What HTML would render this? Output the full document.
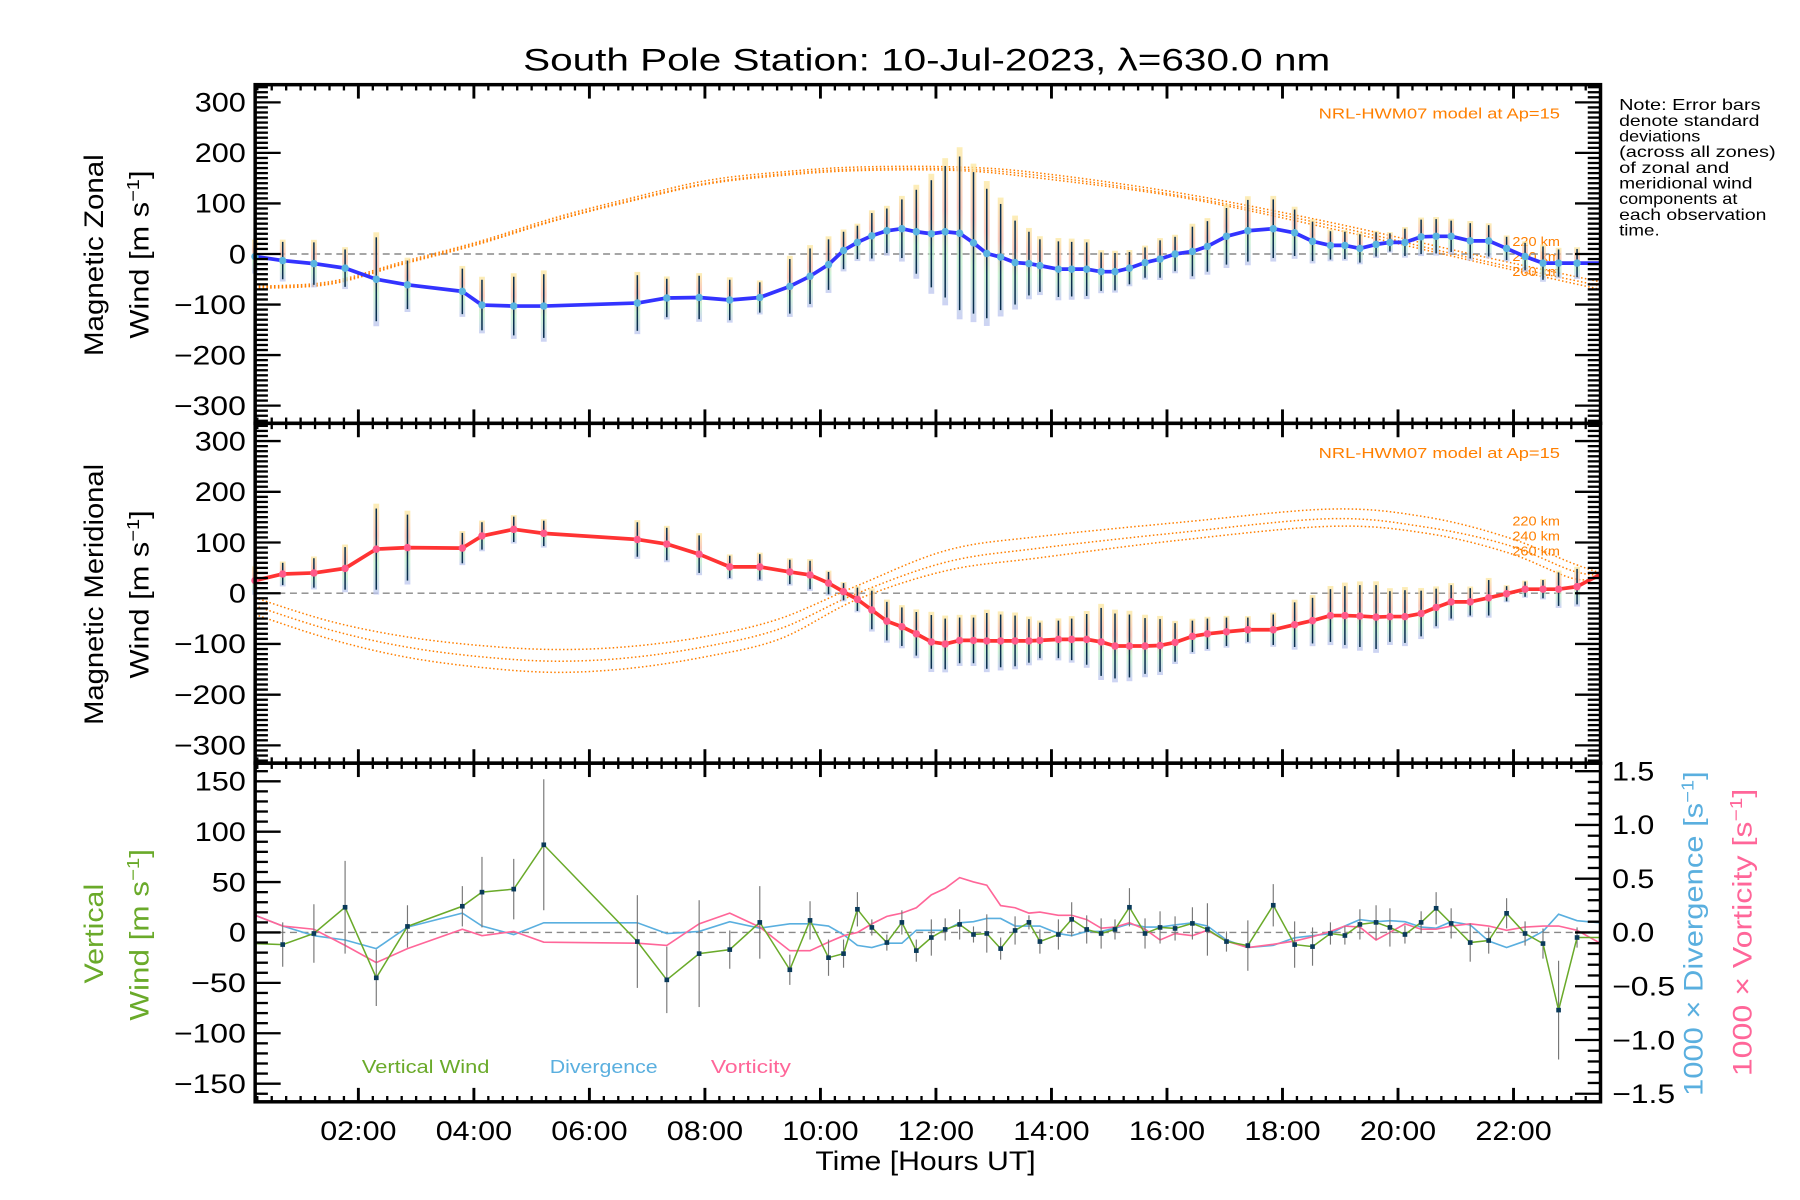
<!DOCTYPE html>
<html><head><meta charset="utf-8"><title>South Pole Station winds</title>
<style>
html,body{margin:0;padding:0;background:#fff;}
svg{display:block;font-family:"Liberation Sans",sans-serif;}
</style></head>
<body>
<svg id="chart" xmlns="http://www.w3.org/2000/svg" width="1800" height="1200" viewBox="0 0 1552 1034.67">
<defs>
<linearGradient id="spread" x1="0" y1="0" x2="0" y2="1">
<stop offset="0" stop-color="#fce9a0"/><stop offset="0.35" stop-color="#f7b9a6"/><stop offset="0.65" stop-color="#bfefc8"/><stop offset="1" stop-color="#bcc4f0"/>
</linearGradient>
</defs>
<text x="451" y="61" font-size="27" textLength="696" lengthAdjust="spacingAndGlyphs" fill="#000">South Pole Station: 10-Jul-2023, λ=630.0 nm</text>
<g font-size="13.5" fill="#000" lengthAdjust="spacingAndGlyphs">
<text x="1396" y="95" textLength="122" lengthAdjust="spacingAndGlyphs">Note: Error bars</text>
<text x="1396" y="108.5" textLength="121" lengthAdjust="spacingAndGlyphs">denote standard</text>
<text x="1396" y="122" textLength="70" lengthAdjust="spacingAndGlyphs">deviations</text>
<text x="1396" y="135.5" textLength="135" lengthAdjust="spacingAndGlyphs">(across all zones)</text>
<text x="1396" y="149" textLength="95" lengthAdjust="spacingAndGlyphs">of zonal and</text>
<text x="1396" y="162.5" textLength="115" lengthAdjust="spacingAndGlyphs">meridional wind</text>
<text x="1396" y="176" textLength="102" lengthAdjust="spacingAndGlyphs">components at</text>
<text x="1396" y="189.5" textLength="127" lengthAdjust="spacingAndGlyphs">each observation</text>
<text x="1396" y="203" textLength="35" lengthAdjust="spacingAndGlyphs">time.</text>
</g>
<text font-size="23" textLength="174" lengthAdjust="spacingAndGlyphs" transform="translate(89,307) rotate(-90)">Magnetic Zonal</text>
<text font-size="23" textLength="145" lengthAdjust="spacingAndGlyphs" transform="translate(128,292) rotate(-90)">Wind [m s<tspan dy="-8" font-size="15">−1</tspan><tspan dy="8">]</tspan></text>
<text font-size="23" textLength="225" lengthAdjust="spacingAndGlyphs" transform="translate(89,625) rotate(-90)">Magnetic Meridional</text>
<text font-size="23" textLength="145" lengthAdjust="spacingAndGlyphs" transform="translate(128,585) rotate(-90)">Wind [m s<tspan dy="-8" font-size="15">−1</tspan><tspan dy="8">]</tspan></text>
<text font-size="23" fill="#6aaa2a" textLength="86" lengthAdjust="spacingAndGlyphs" transform="translate(89,848) rotate(-90)">Vertical</text>
<text font-size="23" fill="#6aaa2a" textLength="148" lengthAdjust="spacingAndGlyphs" transform="translate(128,880) rotate(-90)">Wind [m s<tspan dy="-8" font-size="15">−1</tspan><tspan dy="8">]</tspan></text>
<text font-size="23" fill="#5aafdf" textLength="280" lengthAdjust="spacingAndGlyphs" transform="translate(1468,945) rotate(-90)">1000 × Divergence [s<tspan dy="-8" font-size="15">−1</tspan><tspan dy="8">]</tspan></text>
<text font-size="23" fill="#ff6699" textLength="248" lengthAdjust="spacingAndGlyphs" transform="translate(1510,928) rotate(-90)">1000 × Vorticity [s<tspan dy="-8" font-size="15">−1</tspan><tspan dy="8">]</tspan></text>
<text x="703" y="1009" font-size="23" textLength="190" lengthAdjust="spacingAndGlyphs">Time [Hours UT]</text>
<text x="312" y="925" font-size="16" fill="#6aaa2a" textLength="110" lengthAdjust="spacingAndGlyphs">Vertical Wind</text>
<text x="474" y="925" font-size="16" fill="#5aafdf" textLength="93" lengthAdjust="spacingAndGlyphs">Divergence</text>
<text x="613" y="925" font-size="16" fill="#ff6699" textLength="69" lengthAdjust="spacingAndGlyphs">Vorticity</text>
<text x="1137" y="102" font-size="13" fill="#ff7f00" textLength="208" lengthAdjust="spacingAndGlyphs">NRL-HWM07 model at Ap=15</text>
<text x="1137" y="395" font-size="13" fill="#ff7f00" textLength="208" lengthAdjust="spacingAndGlyphs">NRL-HWM07 model at Ap=15</text>
<g font-size="11" fill="#ff7f00">
<text x="1304" y="212" textLength="41" lengthAdjust="spacingAndGlyphs">220 km</text><text x="1304" y="225" textLength="41" lengthAdjust="spacingAndGlyphs">240 km</text><text x="1304" y="238" textLength="41" lengthAdjust="spacingAndGlyphs">260 km</text></g>
<g font-size="11" fill="#ff7f00">
<text x="1304" y="453" textLength="41" lengthAdjust="spacingAndGlyphs">220 km</text><text x="1304" y="466" textLength="41" lengthAdjust="spacingAndGlyphs">240 km</text><text x="1304" y="479" textLength="41" lengthAdjust="spacingAndGlyphs">260 km</text></g>
</svg>
<script>
// ---- data ----
const times = [0.21,0.69,1.23,1.77,2.31,2.85,3.80,4.14,4.69,5.21,6.83,7.34,7.90,8.43,8.95,9.47,9.82,10.14,10.40,10.64,10.89,11.15,11.41,11.66,11.92,12.16,12.41,12.65,12.88,13.12,13.37,13.61,
13.80,14.12,14.35,14.61,14.86,15.10,15.35,15.62,15.88,16.14,16.44,16.70,17.03,17.40,17.84,18.21,18.52,18.83,19.08,19.34,19.62,19.86,20.12,20.40,20.66,20.92,21.25,21.57,21.88,22.20,22.51,22.78,23.10];
const endTime = 23.5;
const zonal = [-5,-13,-19,-28,-50,-61,-74,-101,-103,-103,-97,-87,-86,-91,-86,-64,-44,-21,7,23,36,46,50,44,40,44,41,22,1,-6,-17,-19,
-23,-30,-30,-30,-35,-35,-28,-17,-10,0,5,15,35,46,50,42,25,17,17,11,19,23,23,34,35,35,26,26,11,-5,-18,-18,-18];
const zonalEnd = -18;
const zonalErr = [30,37,42,37,83,48,45,50,58,63,55,38,43,40,30,54,55,50,37,33,45,44,58,83,106,130,152,140,128,105,83,63,
52,55,54,53,38,37,32,30,37,34,49,50,56,61,58,46,39,28,27,28,24,18,27,34,34,31,35,31,23,27,33,27,28];
const merid = [25,38,40,49,87,90,89,113,126,118,106,97,77,52,52,42,36,20,3,-12,-33,-55,-66,-80,-96,-100,-93,-93,-94,-94,-94,-94,
-93,-91,-91,-91,-96,-104,-104,-104,-103,-97,-85,-80,-76,-72,-72,-62,-54,-44,-44,-45,-47,-46,-46,-40,-28,-17,-17,-9,-1,8,8,8,13];
const meridEnd = 37;
const meridErr = [25,22,29,42,80,65,30,27,25,25,34,32,37,22,25,24,28,22,17,23,38,38,38,43,53,50,45,45,55,52,50,43,
35,37,41,50,67,64,62,55,52,38,31,30,28,24,30,44,45,52,58,61,63,50,52,45,37,33,27,35,15,15,18,33,35];
const vert = [-11,-12,-1,25,-45,6,26,40,43,87,-9,-47,-21,-17,10,-37,12,-25,-21,23,5,-10,10,-18,-5,3,8,-2,-1,-16,2,10,
-9,-2,13,3,-1,3,25,-1,5,4,9,3,-9,-13,27,-12,-14,-1,-3,8,10,5,-2,10,24,9,-10,-8,19,-1,-11,-77,-5];
const vertEnd = -5;
const vertErr = [0,22,29,46,28,21,20,35,30,65,46,33,53,19,36,15,19,18,14,17,8,8,12,11,18,11,15,8,19,11,14,7,
12,15,17,14,15,10,19,15,16,12,16,26,10,25,21,23,19,11,9,15,17,19,9,11,16,15,19,13,15,12,15,49,10];
const diverg = [0.16,0.06,-0.03,-0.07,-0.15,0.05,0.18,0.06,-0.02,0.09,0.09,-0.01,0.01,0.10,0.04,0.08,0.08,0.06,-0.02,-0.12,-0.14,-0.10,-0.10,0.02,0.02,0.02,0.09,0.10,0.13,0.13,0.06,0.06,
0.06,-0.01,-0.03,0.01,0.01,0.04,0.08,0.05,0.05,0.07,0.09,0.06,-0.07,-0.14,-0.12,-0.05,-0.03,-0.01,0.06,0.12,0.10,0.11,0.10,0.05,0.04,0.10,0.07,-0.08,-0.14,-0.08,0.01,0.17,0.11];
const divergEnd = 0.09;
const vort = [0.16,0.06,0.03,-0.12,-0.28,-0.15,0.03,-0.03,0.01,-0.09,-0.10,-0.12,0.08,0.18,0.05,-0.17,-0.17,-0.09,-0.03,0,0.08,0.15,0.18,0.23,0.35,0.41,0.51,0.47,0.44,0.25,0.23,0.18,
0.19,0.16,0.16,0.12,0.04,0.05,0.09,0.03,-0.07,-0.01,-0.03,0.02,-0.08,-0.14,-0.11,-0.08,-0.04,0.01,0.06,0.05,-0.07,0,0.08,0.03,0.03,0.06,0.08,0.06,0.02,0.05,0.06,0.06,0.02];
const vortEnd = -0.10;
const modelTimes = [0.21,1.5,2.78,4.1,5.41,6.7,8.02,9.3,10.64,12.4,13.8,16.25,18.85,21.46,23.5];
const zonalModel220 = [-64,-55,-15,25,72,110,145,162,172,172,160,120,62,-5,-55];
const zonalModel240 = [-66,-58,-18,22,68,106,140,158,168,168,155,115,56,-13,-63];
const zonalModel260 = [-68,-60,-20,20,66,104,138,155,165,165,150,112,50,-18,-70];
const meridModelTimes = [0.21,1.5,2.78,4.1,5.41,6.7,8.02,9.3,10.64,12.2,13.8,16.25,18.85,20.5,21.9,23.0,23.5];
const meridModel220 = [-9,-55,-85,-103,-111,-105,-85,-50,15,85,112,140,166,150,110,60,40];
const meridModel240 = [-25,-72,-105,-125,-134,-127,-105,-70,0,62,89,120,147,130,95,45,35];
const meridModel260 = [-42,-90,-125,-146,-156,-148,-125,-90,-12,45,70,105,132,118,80,30,30];
const xTickLabels = ["02:00","04:00","06:00","08:00","10:00","12:00","14:00","16:00","18:00","20:00","22:00"];
const xTickHours = [2,4,6,8,10,12,14,16,18,20,22];
const windTicks = [300,200,100,0,-100,-200,-300];
const vertTicks = [150,100,50,0,-50,-100,-150];
const rightTicks = [1.5,1.0,0.5,0.0,-0.5,-1.0,-1.5];

// ---- scales ----
const NS = "http://www.w3.org/2000/svg";
const svg = document.getElementById("chart");
const X0 = 0.213, X1 = 23.506, L = 220, R = 1380;
function xS(h){ return L + (h - X0) / (X1 - X0) * (R - L); }
const panels = [
  {top:73, bot:365, min:-335, max:335},
  {top:365, bot:658, min:-335, max:335},
  {top:658, bot:950, min:-168, max:168}
];
const rightAx = {top:658, bot:950, min:-1.575, max:1.575};
function yS(p, v){ return p.bot - (v - p.min) / (p.max - p.min) * (p.bot - p.top); }
function mk(tag, attrs, parent){
  const e = document.createElementNS(NS, tag);
  for (const k in attrs) e.setAttribute(k, attrs[k]);
  (parent || svg).appendChild(e);
  return e;
}
function fmt(v, d){ const s = Math.abs(v).toFixed(d); return (v < 0 ? "−" : "") + s; }
function smooth(pts){
  let d = "M" + pts[0][0] + "," + pts[0][1];
  for (let i = 0; i < pts.length - 1; i++){
    const p0 = pts[Math.max(0,i-1)], p1 = pts[i], p2 = pts[i+1], p3 = pts[Math.min(pts.length-1,i+2)];
    const c1x = p1[0] + (p2[0]-p0[0])/6, c1y = p1[1] + (p2[1]-p0[1])/6;
    const c2x = p2[0] - (p3[0]-p1[0])/6, c2y = p2[1] - (p3[1]-p1[1])/6;
    d += " C" + c1x + "," + c1y + " " + c2x + "," + c2y + " " + p2[0] + "," + p2[1];
  }
  return d;
}

// ---- zero lines ----
panels.forEach((p, i) => {
  const z = mk("line", {x1:L, x2:R, y1:yS(p,0), y2:yS(p,0), stroke:"#888", "stroke-width":1.2, "stroke-dasharray":"6,4"});
  
  
});

// ---- model curves ----
function drawModel(p, mt, vals, name){
  const pts = mt.map((t, i) => [xS(t), yS(p, vals[i])]);
  const path = mk("path", {d:smooth(pts), fill:"none", stroke:"#ff7f00", "stroke-width":1.3, "stroke-dasharray":"1.3,2"});
  
  
}
drawModel(panels[0], modelTimes, zonalModel220, 'zonal-model-220km');
drawModel(panels[0], modelTimes, zonalModel240, 'zonal-model-240km');
drawModel(panels[0], modelTimes, zonalModel260, 'zonal-model-260km');
drawModel(panels[1], meridModelTimes, meridModel220, 'meridional-model-220km');
drawModel(panels[1], meridModelTimes, meridModel240, 'meridional-model-240km');
drawModel(panels[1], meridModelTimes, meridModel260, 'meridional-model-260km');

// ---- wind panels ----
function drawWind(p, vals, errs, endV, lineColor, dotColor, prefix){
  const g = mk("g", {});
  
  
  times.forEach((t, i) => {
    const x = xS(t), e = errs[i] * 1.12;
    const r = mk("rect", {x:x-2.5, y:yS(p, vals[i]+e), width:5, height:yS(p, vals[i]-e)-yS(p, vals[i]+e), fill:"url(#spread)", opacity:0.75}, g);
    
    
  });
  times.forEach((t, i) => {
    const x = xS(t);
    const b = mk("line", {x1:x, x2:x, y1:yS(p, vals[i]+errs[i]), y2:yS(p, vals[i]-errs[i]), stroke:"#0a2f4f", "stroke-width":1.3}, g);
    
    
  });
  const pts = times.map((t, i) => xS(t) + "," + yS(p, vals[i]));
  pts.push(xS(endTime) + "," + yS(p, endV));
  const ln = mk("polyline", {points:pts.join(" "), fill:"none", stroke:lineColor, "stroke-width":3.2, "stroke-linejoin":"round"}, g);
  
  
  times.forEach((t, i) => {
    const c = mk("circle", {cx:xS(t), cy:yS(p, vals[i]), r:3.2, fill:dotColor}, g);
    
    
  });
}
drawWind(panels[0], zonal, zonalErr, zonalEnd, "#3333ff", "#5ab4e0", "zonal-wind");
drawWind(panels[1], merid, meridErr, meridEnd, "#ff3333", "#ff5a8a", "meridional-wind");

// ---- bottom panel ----
(function(){
  const p = panels[2];
  const g = mk("g", {});
  
  
  const clipR = mk("clipPath", {id:"p3clip"}, g);
  mk("rect", {x:L, y:p.top, width:R-L, height:p.bot-p.top}, clipR);
  const inner = mk("g", {"clip-path":"url(#p3clip)"}, g);
  function rline(vals, endV, color, name){
    const pts = times.map((t, i) => xS(t) + "," + yS(rightAx, vals[i]));
    pts.push(xS(endTime) + "," + yS(rightAx, endV));
    const l = mk("polyline", {points:pts.join(" "), fill:"none", stroke:color, "stroke-width":1.4}, inner);
    
    
  }
  rline(diverg, divergEnd, "#5aafdf", "divergence-line");
  rline(vort, vortEnd, "#ff6699", "vorticity-line");
  times.forEach((t, i) => {
    if (vertErr[i] <= 0) return;
    const x = xS(t);
    const b = mk("line", {x1:x, x2:x, y1:yS(p, vert[i]+vertErr[i]), y2:yS(p, vert[i]-vertErr[i]), stroke:"#777", "stroke-width":1}, inner);
    
    
  });
  const pts = times.map((t, i) => xS(t) + "," + yS(p, vert[i]));
  pts.push(xS(endTime) + "," + yS(p, vertEnd));
  const l = mk("polyline", {points:pts.join(" "), fill:"none", stroke:"#6aaa2a", "stroke-width":1.3}, inner);
  
  
  times.forEach((t, i) => {
    if (i === 0) return;
    const s = mk("rect", {x:xS(t)-2, y:yS(p, vert[i])-2, width:4, height:4, fill:"#0a3a5a"}, inner);
    
    
  });
})();

// ---- axes ----
panels.forEach((p, pi) => {
  const ax = mk("g", {stroke:"#000"});
  
  
  for (let m = Math.ceil(X0*4); m <= Math.floor(X1*4); m++){
    const h = m / 4, x = xS(h), major = (m % 8 === 0);
    const len = major ? 12 : 5;
    mk("line", {x1:x, x2:x, y1:p.bot, y2:p.bot-len, "stroke-width":major?2.5:2}, ax);
    mk("line", {x1:x, x2:x, y1:p.top, y2:p.top+len, "stroke-width":major?2.5:2}, ax);
  }
  const step = 10, majorStep = (pi === 2) ? 50 : 100;
  for (let v = Math.ceil(p.min/step)*step; v <= p.max; v += step){
    const y = yS(p, v), major = (v % majorStep === 0);
    const len = major ? 22 : 11;
    mk("line", {x1:L, x2:L+len, y1:y, y2:y, "stroke-width":2}, ax);
    if (pi < 2) mk("line", {x1:R, x2:R-len, y1:y, y2:y, "stroke-width":2}, ax);
  }
  if (pi === 2){
    for (let k = -15; k <= 15; k++){
      const v = k / 10, y = yS(rightAx, v), major = (k % 5 === 0);
      mk("line", {x1:R, x2:R-(major?22:11), y1:y, y2:y, "stroke-width":2}, ax);
    }
  }
  mk("rect", {x:L, y:p.top, width:R-L, height:p.bot-p.top, fill:"none", "stroke-width":3}, ax);
});

// tick labels (wide Hershey-like proportions via textLength)
function textWidth(s){
  let w = 0;
  for (const c of s){ w += (c === "−") ? 18 : (c === "." ? 7 : (c === ":" ? 7 : 14.7)); }
  return w;
}
function label(x, y, txt, anchor, name){
  const w = textWidth(txt);
  const sx = anchor === "end" ? x - w : (anchor === "middle" ? x - w/2 : x);
  const t = mk("text", {x:sx, y:y, "font-size":23, textLength:w, lengthAdjust:"spacingAndGlyphs", fill:"#000"});
  t.textContent = txt;
  
  
}
[0,1].forEach(pi => windTicks.forEach(v => label(212, yS(panels[pi], v)+8, fmt(v,0), "end", "y-tick-label-panel-" + (pi+1))));
vertTicks.forEach(v => label(212, yS(panels[2], v)+8, fmt(v,0), "end", "y-tick-label-panel-3"));
rightTicks.forEach(v => label(1390, yS(rightAx, v)+8, fmt(v,1), "start", "right-y-tick-label"));
xTickHours.forEach((h, i) => label(xS(h), 983, xTickLabels[i], "middle", "x-tick-label"));
</script>
</body></html>
